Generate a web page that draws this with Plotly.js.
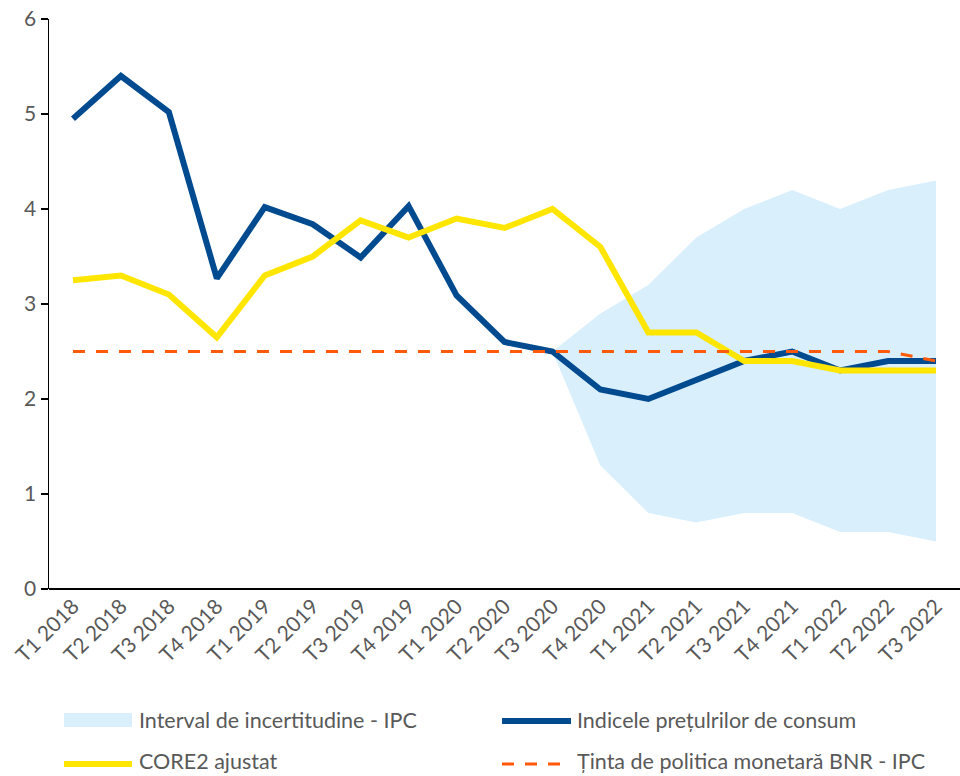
<!DOCTYPE html>
<html>
<head>
<meta charset="utf-8">
<script src="https://cdn.plot.ly/plotly-3.0.1.min.js"></script>
<style>
  html, body { margin: 0; padding: 0; background: #fff; }
  #chart { width: 960px; height: 776px; }
</style>
</head>
<body>
<div id="chart"></div>
<script>
const quarters = ['T1 2018', 'T2 2018', 'T3 2018', 'T4 2018', 'T1 2019', 'T2 2019', 'T3 2019', 'T4 2019',
  'T1 2020', 'T2 2020', 'T3 2020', 'T4 2020', 'T1 2021', 'T2 2021', 'T3 2021', 'T4 2021',
  'T1 2022', 'T2 2022', 'T3 2022'];

const ipc = [4.95, 5.4, 5.02, 3.27, 4.02, 3.84, 3.49, 4.03, 3.09, 2.6, 2.5, 2.1, 2.0, 2.2, 2.4, 2.5, 2.3, 2.4, 2.4];
const core2 = [3.25, 3.3, 3.1, 2.65, 3.3, 3.5, 3.88, 3.7, 3.9, 3.8, 4.0, 3.6, 2.7, 2.7, 2.4, 2.4, 2.3, 2.3, 2.3];
const tinta = [2.5, 2.5, 2.5, 2.5, 2.5, 2.5, 2.5, 2.5, 2.5, 2.5, 2.5, 2.5, 2.5, 2.5, 2.5, 2.5, 2.5, 2.5, 2.4];

// uncertainty band, from T3 2020 on
const bandQuarters = quarters.slice(10);
const bandLow = [2.5, 1.3, 0.8, 0.7, 0.8, 0.8, 0.6, 0.6, 0.5];
const bandHigh = [2.5, 2.9, 3.2, 3.7, 4.0, 4.2, 4.0, 4.2, 4.3];

const grey = '#595959';
const font = 'Lato, "Noto Sans", sans-serif';

const colors = { band: '#d9effc', ipc: '#004a8f', core: '#ffe600', tinta: '#ff5a0a' };

const traces = [
  { x: bandQuarters, y: bandLow, type: 'scatter', mode: 'lines', line: { width: 0 }, hoverinfo: 'skip', showlegend: false },
  { x: bandQuarters, y: bandHigh, type: 'scatter', mode: 'lines', fill: 'tonexty', fillcolor: colors.band,
    line: { width: 0 }, name: 'Interval de incertitudine - IPC', showlegend: false },
  { x: quarters, y: ipc, type: 'scatter', mode: 'lines', name: 'Indicele prețulrilor de consum',
    line: { color: colors.ipc, width: 6 }, showlegend: false },
  { x: quarters, y: core2, type: 'scatter', mode: 'lines', name: 'CORE2 ajustat',
    line: { color: colors.core, width: 6 }, showlegend: false },
  { x: quarters, y: tinta, type: 'scatter', mode: 'lines', name: 'Ținta de politica monetară BNR - IPC',
    line: { color: colors.tinta, width: 3, dash: '12px,11px' }, showlegend: false }
];

// plot box in pixels, used to place the hand-made legend
const L = 49, W = 911, T = 19, H = 570;
const px = v => (v - L) / W;
const py = v => (T + H - v) / H;

const shapes = [
  { type: 'rect', xref: 'paper', yref: 'paper', x0: px(64), x1: px(132), y0: py(727), y1: py(713),
    fillcolor: colors.band, line: { width: 0 } },
  { type: 'line', xref: 'paper', yref: 'paper', x0: px(502), x1: px(571), y0: py(721), y1: py(721),
    line: { color: colors.ipc, width: 6 } },
  { type: 'line', xref: 'paper', yref: 'paper', x0: px(64), x1: px(132), y0: py(764), y1: py(764),
    line: { color: colors.core, width: 6 } },
  { type: 'line', xref: 'paper', yref: 'paper', x0: px(502), x1: px(560), y0: py(764), y1: py(764),
    line: { color: colors.tinta, width: 3, dash: '12px,11px' } }
];

const legendText = [
  ['Interval de incertitudine - IPC', 137, 720],
  ['Indicele prețulrilor de consum', 575, 720],
  ['CORE2 ajustat', 137, 761],
  ['Ținta de politica monetară BNR - IPC', 575, 761]
];
const annotations = legendText.map(([text, x, y]) => ({
  text, xref: 'paper', yref: 'paper', x: px(x), y: py(y), xanchor: 'left', yanchor: 'middle',
  showarrow: false, font: { family: font, size: 21.5, color: grey }
}));

const layout = {
  width: 960, height: 776,
  margin: { l: L, r: 960 - L - W, t: T, b: 776 - T - H },
  paper_bgcolor: '#fff', plot_bgcolor: '#fff',
  showlegend: false,
  font: { family: font, color: grey },
  xaxis: {
    type: 'category', categoryorder: 'array', categoryarray: quarters,
    range: [-0.5, 18.5], showgrid: false, zeroline: false,
    showline: false, ticks: '', tickangle: -45, tickfont: { family: font, size: 21, color: grey }
  },
  yaxis: {
    range: [0, 6], dtick: 1, showgrid: false, zeroline: true, zerolinecolor: '#000', zerolinewidth: 2.5,
    showline: true, linecolor: '#000', linewidth: 1.5, ticks: 'outside', ticklen: 7, tickcolor: '#000',
    tickwidth: 1.5, tickfont: { family: font, size: 21, color: grey }
  },
  shapes, annotations
};

Plotly.newPlot('chart', traces, layout, { displayModeBar: false, staticPlot: true });
</script>
</body>
</html>
